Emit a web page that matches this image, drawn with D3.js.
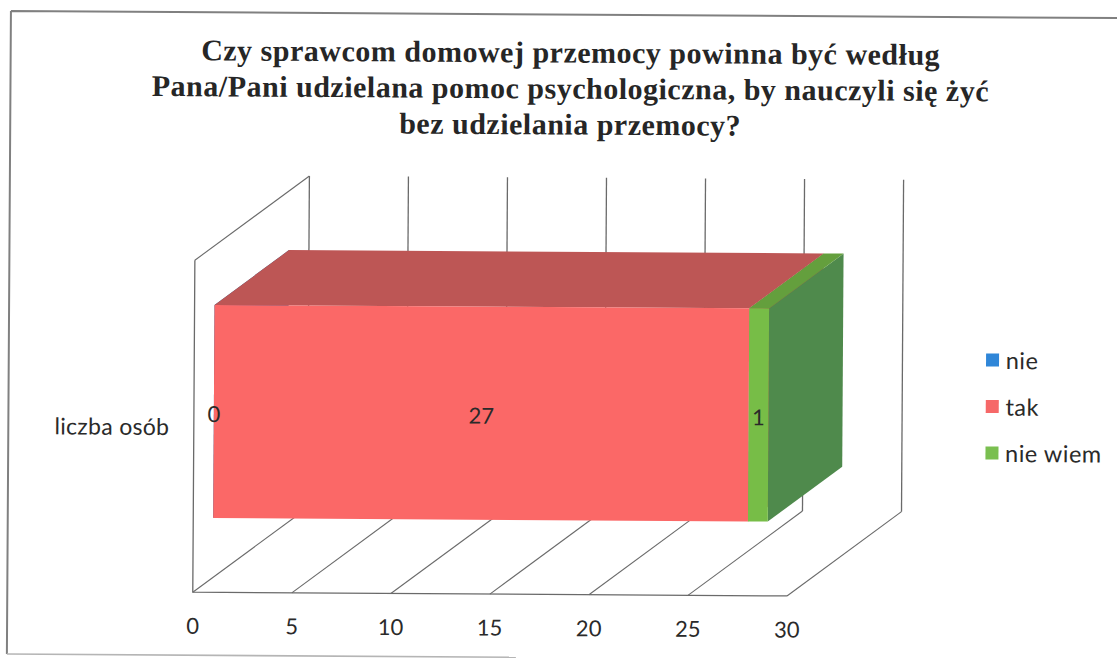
<!DOCTYPE html>
<html lang="pl">
<head>
<meta charset="utf-8">
<script src="https://d3js.org/d3.v7.min.js"></script>
<style>
html,body{margin:0;padding:0;background:#fff}
svg{display:block}
.lab{font-family:Lato,"Open Sans",sans-serif;fill:#2a2a2a}
.ttl{font-family:"Liberation Serif",serif;font-weight:700;fill:#262626;font-size:30px;letter-spacing:0.5px}
</style>
</head>
<body>
<svg id="c" width="1117" height="659"></svg>
<script>
const titleLines = ["Czy sprawcom domowej przemocy powinna być według","Pana/Pani udzielana pomoc psychologiczna, by nauczyli się żyć","bez udzielania przemocy?"];
const categories = ["liczba osób"];
const seriesNames = ["nie","tak","nie wiem"];
const seriesValues = [0,27,1];
const tickValues = [0,5,10,15,20,25,30];
const frontColors = ["#2f86d8","#fb6867","#77bd47"];
const topColors = ["#27689f","#bd5655","#649f3d"];
const sideColors = ["#245d90","#a94c4c","#4f8a4c"];
const legendColors = ["#2f86d8","#f66868","#7abf50"];

const svg = d3.select("#c");
const g = svg.append("g").attr("transform","rotate(0.36)");
const x = d3.scaleLinear().domain([0,30]).range([196.5,790.7]);
const y = d3.scaleBand().domain(categories).range([591,259]).padding(0.218);
const depthX = 114, depthY = 85;
const p = (v,d,yy)=>[x(v)+d*depthX, yy-d*depthY];
const lineC = d3.line();
const gridColor = "#6a6a6a";

// frame
g.append("path").attr("d","M11,11H1125M11,11V654").attr("fill","none").attr("stroke","#808080").attr("stroke-width",2);
g.append("path").attr("d","M11,654H520").attr("fill","none").attr("stroke","#b5b5b5").attr("stroke-width",1.6);

// walls and floor
const [yFloor,yTop] = y.range();
g.selectAll(".wall").data(tickValues).join("path").attr("class","wall")
  .attr("d",v=>lineC([p(v,1,yFloor),p(v,1,yTop)]))
  .attr("stroke",gridColor).attr("stroke-width",1.3).attr("fill","none");
g.selectAll(".floor").data(tickValues).join("path").attr("class","floor")
  .attr("d",v=>lineC([p(v,0,yFloor),p(v,1,yFloor)]))
  .attr("stroke",gridColor).attr("stroke-width",1.1).attr("fill","none");
g.append("path").attr("d",lineC([p(0,0,yTop),p(0,0,yFloor),p(30,0,yFloor)]))
  .attr("stroke",gridColor).attr("stroke-width",1.3).attr("fill","none");
g.append("path").attr("d",lineC([p(0,0,yTop),p(0,1,yTop)]))
  .attr("stroke",gridColor).attr("stroke-width",1.1).attr("fill","none");

// stacked 3D bar
const d0 = 0.175, d1 = 0.825;
const stackData = [];
seriesValues.reduce((acc,v,i)=>{stackData.push({name:seriesNames[i],i,start:acc,end:acc+v,v});return acc+v;},0);
const yT = y(categories[0]), yB = yT + y.bandwidth();
const poly = pts => lineC(pts)+"Z";
const bars = g.selectAll(".seg").data(stackData).join("g").attr("class","seg");
bars.append("path").attr("d",d=>poly([p(d.end,d0,yT),p(d.end,d1,yT),p(d.end,d1,yB),p(d.end,d0,yB)])).attr("fill",d=>sideColors[d.i]);
bars.append("path").attr("d",d=>poly([p(d.start,d0,yT),p(d.start,d1,yT),p(d.end,d1,yT),p(d.end,d0,yT)])).attr("fill",d=>topColors[d.i]);
bars.append("path").attr("d",d=>poly([p(d.start,d0,yT),p(d.end,d0,yT),p(d.end,d0,yB),p(d.start,d0,yB)])).attr("fill",d=>frontColors[d.i]);

// value labels
g.selectAll(".val").data(stackData).join("text").attr("class","lab val")
  .attr("x",d=>p((d.start+d.end)/2,d0,0)[0])
  .attr("y",d=>(yT+yB)/2-d0*depthY+2)
  .attr("text-anchor","middle").attr("dominant-baseline","central")
  .attr("font-size",22).text(d=>d.v);

// axis labels
g.selectAll(".tick").data(tickValues).join("text").attr("class","lab tick")
  .attr("x",v=>x(v)).attr("y",624).attr("text-anchor","middle").attr("dominant-baseline","central")
  .attr("font-size",22).text(v=>v);
g.selectAll(".cat").data(categories).join("text").attr("class","lab cat")
  .attr("x",172).attr("y",d=>y(d)+y.bandwidth()/2).attr("text-anchor","end").attr("dominant-baseline","central")
  .attr("font-size",23).attr("letter-spacing",0.3).text(d=>d);

// legend
const legendY = d3.scalePoint().domain(seriesNames).range([353.8,446.7]);
const leg = g.selectAll(".leg").data(seriesNames).join("g").attr("class","leg");
leg.append("rect").attr("x",988.3).attr("y",d=>legendY(d)-6.5).attr("width",13).attr("height",13).attr("fill",(d,i)=>legendColors[i]);
leg.append("text").attr("class","lab").attr("x",1008).attr("y",d=>legendY(d)).attr("dominant-baseline","central").attr("font-size",23.5).attr("letter-spacing",0.5).text(d=>d);

// title
g.selectAll(".ttl").data(titleLines).join("text").attr("class","ttl")
  .attr("x",571).attr("y",(d,i)=>59+i*36).attr("text-anchor","middle").text(d=>d);
</script>
</body>
</html>
